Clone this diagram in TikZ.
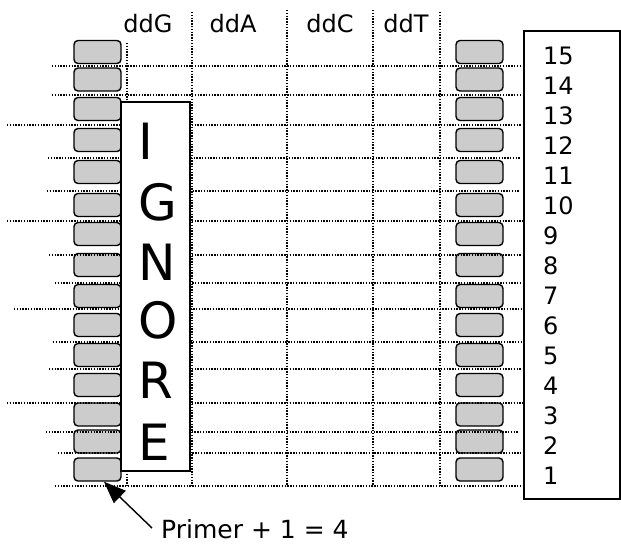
\documentclass[tikz,border=0pt]{standalone}
\usepackage{fontspec}
\setmainfont{DejaVu Sans}
\usepackage{tikz}
\usetikzlibrary{calc}
\usetikzlibrary{arrows.meta,positioning}

\begin{document}
\begin{tikzpicture}[x=1pt, y=-1pt,
        pill/.style={draw,fill=gray!40,rounded corners=4pt,line width=1.4pt,minimum width=47pt,minimum height=23pt,inner sep=0pt},
        gridline/.style={line width=1.1pt,dash pattern=on 1.3pt off 1.5pt},
        label/.style={font=\fontsize{24}{28}\selectfont},
        num/.style={font=\fontsize{24}{28}\selectfont,anchor=west,inner sep=0pt},
        bigletter/.style={font=\fontsize{50}{60}\selectfont,anchor=west,inner sep=0pt},
        pointer/.style={-{Triangle[length=22pt,width=17pt]},line width=1.4pt}]
        \useasboundingbox (0,0) rectangle (621,550);
        \node[pill] (L1) at (97.5,469.5) {};
        \node[pill] (L2) at (97.5,441.5) {};
        \node[pill] (L3) at (97.5,414.5) {};
        \node[pill] (L4) at (97.5,385) {};
        \node[pill] (L5) at (97.5,355) {};
        \node[pill] (L6) at (97.5,325) {};
        \node[pill] (L7) at (97.5,296) {};
        \node[pill] (L8) at (97.5,265) {};
        \node[pill] (L9) at (97.5,234) {};
        \node[pill] (L10) at (97.5,205) {};
        \node[pill] (L11) at (97.5,172) {};
        \node[pill] (L12) at (97.5,140) {};
        \node[pill] (L13) at (97.5,109) {};
        \node[pill] (L14) at (97.5,79.5) {};
        \node[pill] (L15) at (97.5,52) {};
        \node[pill] (R1) at (479.5,469.5) {};
        \node[pill] (R2) at (479.5,441.5) {};
        \node[pill] (R3) at (479.5,414.5) {};
        \node[pill] (R4) at (479.5,385) {};
        \node[pill] (R5) at (479.5,355) {};
        \node[pill] (R6) at (479.5,325) {};
        \node[pill] (R7) at (479.5,296) {};
        \node[pill] (R8) at (479.5,265) {};
        \node[pill] (R9) at (479.5,234) {};
        \node[pill] (R10) at (479.5,205) {};
        \node[pill] (R11) at (479.5,172) {};
        \node[pill] (R12) at (479.5,140) {};
        \node[pill] (R13) at (479.5,109) {};
        \node[pill] (R14) at (479.5,79.5) {};
        \node[pill] (R15) at (479.5,52) {};
        \draw[gridline] (52,66) -- (520,66);
        \draw[gridline] (52,95) -- (522,95);
        \draw[gridline] (7,125) -- (522,125);
        \draw[gridline] (48,158) -- (521,158);
        \draw[gridline] (47,191) -- (519,191);
        \draw[gridline] (7,221) -- (523,221);
        \draw[gridline] (49,255) -- (522,255);
        \draw[gridline] (55,283) -- (522,283);
        \draw[gridline] (14,309) -- (523,309);
        \draw[gridline] (53,342) -- (523,342);
        \draw[gridline] (49,369) -- (522,369);
        \draw[gridline] (7,403) -- (523,403);
        \draw[gridline] (46,432) -- (518,432);
        \draw[gridline] (58,453) -- (522,453);
        \draw[gridline] (55,486) -- (524,486);
        \draw[gridline] (127,43) -- (127,102);
        \draw[gridline] (127,471) -- (127,486);
        \draw[gridline] (192,12) -- (192,486);
        \draw[gridline] (287,10) -- (287,486);
        \draw[gridline] (373,10) -- (373,486);
        \draw[gridline] (440,12) -- (440,486);
        \node[draw,fill=white,line width=1.4pt,minimum width=69pt,minimum height=369pt,inner sep=0pt] (ignore) at (155.5,286.5) {};
        \node[bigletter] (I1) at (138,141) {I};
        \node[bigletter] (G1) at (138,202) {G};
        \node[bigletter] (N1) at (138,262) {N};
        \node[bigletter] (O1) at (138,320) {O};
        \node[bigletter] (R0) at (138,380) {R};
        \node[bigletter] (E1) at (138,442) {E};
        \node[draw,fill=white,line width=1.6pt,minimum width=96pt,minimum height=468pt,inner sep=0pt] (numbox) at (572,265) {};
        \node[num] (n15) at (543,56) {15};
        \node[num] (n14) at (543,86) {14};
        \node[num] (n13) at (543,116) {13};
        \node[num] (n12) at (543,146) {12};
        \node[num] (n11) at (543,176) {11};
        \node[num] (n10) at (543,206) {10};
        \node[num] (n9) at (543,236) {9};
        \node[num] (n8) at (543,266) {8};
        \node[num] (n7) at (543,296) {7};
        \node[num] (n6) at (543,326) {6};
        \node[num] (n5) at (543,356) {5};
        \node[num] (n4) at (543,386) {4};
        \node[num] (n3) at (543,416) {3};
        \node[num] (n2) at (543,446) {2};
        \node[num] (n1) at (543,476) {1};
        \node[label] (hG) at (148,24) {ddG};
        \node[label] (hA) at (233,24) {ddA};
        \node[label] (hC) at (330,24) {ddC};
        \node[label] (hT) at (406,24) {ddT};
        \node[num,font=\fontsize{25}{29}\selectfont] (prim) at (161,529) {Primer + 1 = 4};
        \draw[pointer] ($(prim.west)+(-9,-1)$) -- ($(L1.south)+(6.5,0)$);
    \end{tikzpicture}
\end{document}
